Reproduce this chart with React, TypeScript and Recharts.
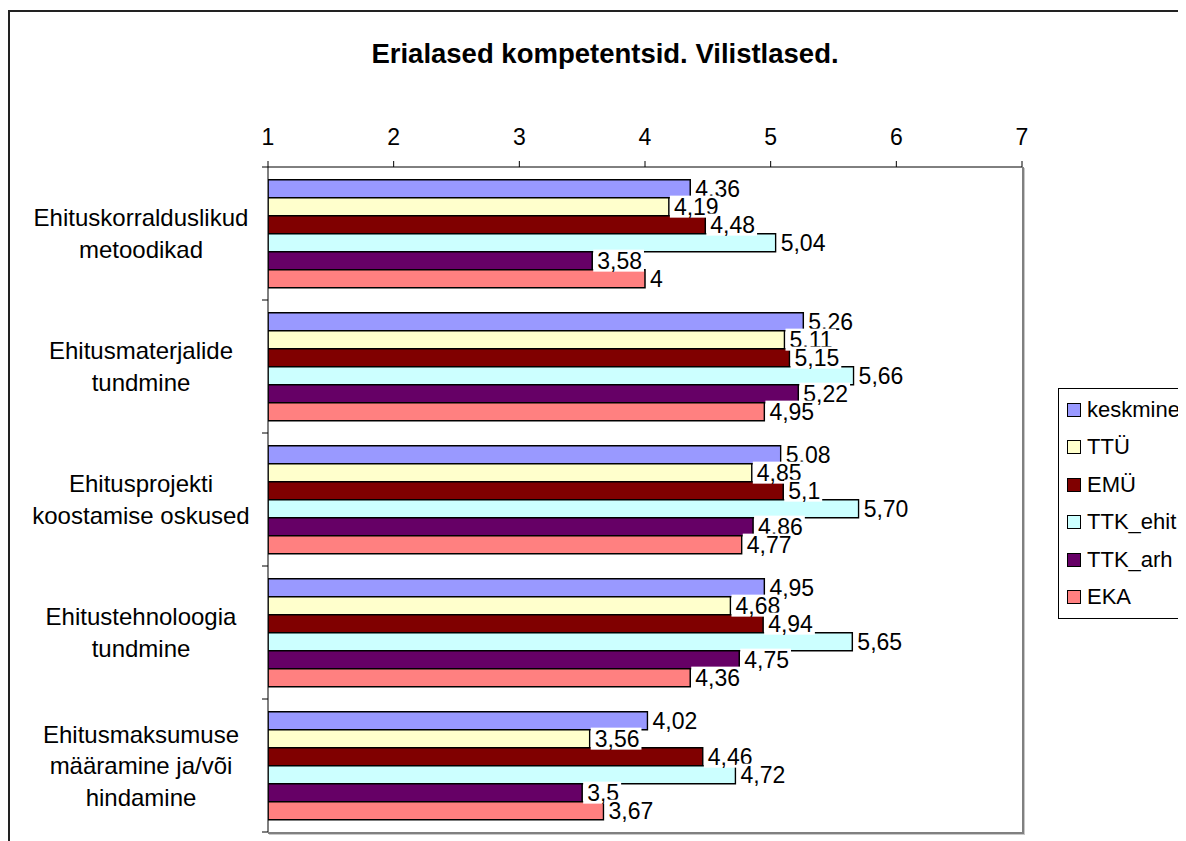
import { BarChart, Bar, XAxis, YAxis, LabelList } from "recharts";

const categories = [
  "Ehituskorralduslikud\nmetoodikad",
  "Ehitusmaterjalide\ntundmine",
  "Ehitusprojekti\nkoostamise oskused",
  "Ehitustehnoloogia\ntundmine",
  "Ehitusmaksumuse\nmääramine ja/või\nhindamine",
];

const seriesNames = ["keskmine", "TTÜ", "EMÜ", "TTK_ehit", "TTK_arh", "EKA"];
const seriesColors = ["#9999FF", "#FFFFCC", "#800000", "#CCFFFF", "#660066", "#FF8080"];

const keskmine = [4.36, 5.26, 5.08, 4.95, 4.02];
const ttu = [4.19, 5.11, 4.85, 4.68, 3.56];
const emu = [4.48, 5.15, 5.1, 4.94, 4.46];
const ttkEhit = [5.04, 5.66, 5.7, 5.65, 4.72];
const ttkArh = [3.58, 5.22, 4.86, 4.75, 3.5];
const eka = [4, 4.95, 4.77, 4.36, 3.67];

const keskmineLabels = ["4,36", "5,26", "5,08", "4,95", "4,02"];
const ttuLabels = ["4,19", "5,11", "4,85", "4,68", "3,56"];
const emuLabels = ["4,48", "5,15", "5,1", "4,94", "4,46"];
const ttkEhitLabels = ["5,04", "5,66", "5,70", "5,65", "4,72"];
const ttkArhLabels = ["3,58", "5,22", "4,86", "4,75", "3,5"];
const ekaLabels = ["4", "4,95", "4,77", "4,36", "3,67"];

const xTicks = [1, 2, 3, 4, 5, 6, 7];

const seriesValues = [keskmine, ttu, emu, ttkEhit, ttkArh, eka];
const seriesLabels = [keskmineLabels, ttuLabels, emuLabels, ttkEhitLabels, ttkArhLabels, ekaLabels];

const data = categories.map((name, i) => {
  const row: Record<string, string | number> = { name };
  seriesNames.forEach((s, j) => {
    row[s] = seriesValues[j][i];
    row[s + "_label"] = seriesLabels[j][i];
  });
  return row;
});

const FONT = "'Liberation Sans', Arial, sans-serif";
const WIDTH = 1178;
const HEIGHT = 833;
const AXIS_W = 260;
const TOP = 159;
const BOTTOM = 9;
const RIGHT = 164;
const plotH = HEIGHT - TOP - BOTTOM;
const halfBand = plotH / categories.length / 2;

function textWidth(s: string, size: number) {
  let w = 0;
  for (const c of s) w += c === "," ? 0.278 : 0.556;
  return w * size;
}

function renderLabel(props: any) {
  const vb = props.viewBox ?? props;
  const { x, y, width, height } = vb;
  const value = String(props.value);
  const fs = 23;
  const endX = x + width;
  const cy = y + height / 2;
  const tw = textWidth(value, fs);
  return (
    <g>
      <rect x={endX + 1} y={cy - 11} width={tw + 6} height={22} fill="#fff" />
      <text x={endX + 5} y={cy + 8} fontSize={fs} fontFamily={FONT} fill="#000">
        {value}
      </text>
    </g>
  );
}

function CategoryTick(props: any) {
  const { y, payload, index } = props;
  const lines = String(payload.value).split("\n");
  const n = lines.length;
  return (
    <g>
      <line x1={AXIS_W - 6} x2={AXIS_W} y1={y - halfBand} y2={y - halfBand} stroke="#000" />
      {index === categories.length - 1 && (
        <line x1={AXIS_W - 6} x2={AXIS_W} y1={y + halfBand} y2={y + halfBand} stroke="#000" />
      )}
      {lines.map((l, i) => (
        <text
          key={i}
          x={133}
          y={y + (i - (n - 1) / 2) * 31.5 + 8.5}
          textAnchor="middle"
          fontSize={24}
          fontFamily={FONT}
          fill="#000"
        >
          {l}
        </text>
      ))}
    </g>
  );
}

export default function App() {
  return (
    <div style={{ position: "relative", width: WIDTH, height: HEIGHT, fontFamily: FONT, overflow: "hidden" }}>
      <div
        style={{
          position: "absolute",
          left: 0,
          top: 2,
          width: WIDTH,
          height: HEIGHT - 2,
          borderLeft: "2px solid #222",
          borderTop: "2px solid #222",
          boxSizing: "border-box",
        }}
      />
      <div
        style={{
          position: "absolute",
          left: 297,
          top: 32,
          width: 600,
          textAlign: "center",
          fontSize: 27.5,
          lineHeight: 1,
          fontWeight: "bold",
          whiteSpace: "nowrap",
        }}
      >
        Erialased kompetentsid. Vilistlased.
      </div>
      <div style={{ position: "absolute", left: 0, top: 0 }}>
        <BarChart
          width={WIDTH}
          height={HEIGHT}
          data={data}
          layout="vertical"
          margin={{ top: 0, right: RIGHT, bottom: BOTTOM, left: 0 }}
          barCategoryGap="9.5%"
          barGap={0}
          style={{ fontFamily: FONT }}
        >
          <XAxis
            type="number"
            domain={[1, 7]}
            ticks={xTicks}
            orientation="top"
            height={TOP}
            tickSize={6}
            tickMargin={16}
            allowDataOverflow
            axisLine={{ stroke: "#000" }}
            tickLine={{ stroke: "#000" }}
            tick={{ fontSize: 23, fill: "#000", fontFamily: FONT }}
          />
          <YAxis
            type="category"
            dataKey="name"
            width={AXIS_W}
            interval={0}
            tickLine={false}
            axisLine={{ stroke: "#000" }}
            tick={CategoryTick}
          />
          {seriesNames.map((s, j) => (
            <Bar
              key={s}
              dataKey={s}
              fill={seriesColors[j]}
              stroke="#000"
              strokeWidth={1.5}
              isAnimationActive={false}
            >
              <LabelList dataKey={s + "_label"} content={renderLabel} />
            </Bar>
          ))}
        </BarChart>
      </div>
      <div
        style={{
          position: "absolute",
          left: AXIS_W,
          top: TOP,
          width: WIDTH - AXIS_W - RIGHT,
          height: plotH,
          borderRight: "2px solid #808080",
          borderBottom: "2px solid #808080",
          boxShadow: "1px 1px 0 #c8c8c8",
          pointerEvents: "none",
        }}
      />
      <div
        style={{
          position: "absolute",
          left: 1050,
          top: 380,
          width: WIDTH - 1050,
          border: "1.5px solid #000",
          borderRight: "none",
          padding: "2px 0",
          boxSizing: "border-box",
        }}
      >
        {seriesNames.map((s, j) => (
          <div
            key={s}
            style={{ display: "flex", alignItems: "center", height: 37.5, fontSize: 22, whiteSpace: "nowrap" }}
          >
            <span
              style={{
                display: "inline-block",
                flexShrink: 0,
                width: 12,
                height: 12,
                background: seriesColors[j],
                border: "1px solid #000",
                marginLeft: 8,
                marginRight: 6,
              }}
            />
            <span>{s}</span>
          </div>
        ))}
      </div>
    </div>
  );
}
